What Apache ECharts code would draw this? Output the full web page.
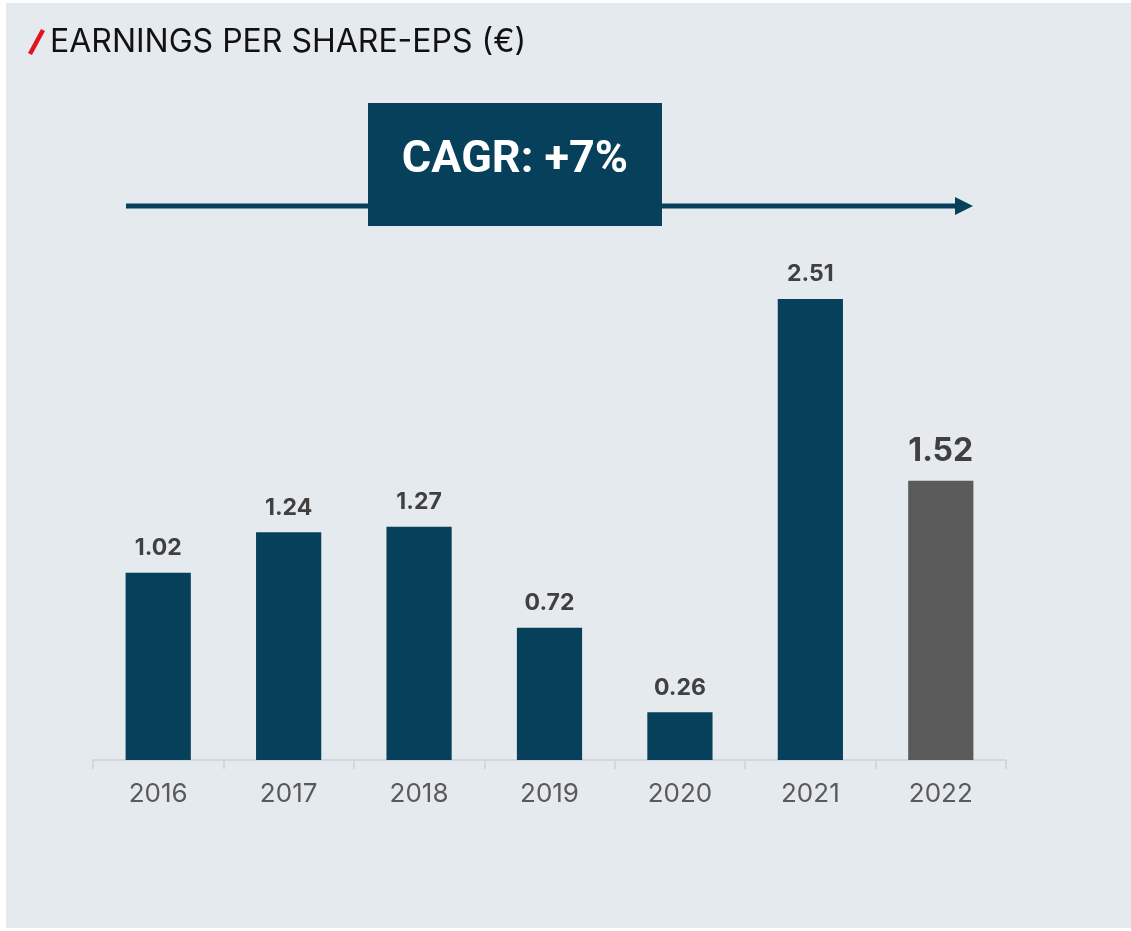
<!DOCTYPE html>
<html>
<head>
<meta charset="utf-8">
<script src="https://cdn.jsdelivr.net/npm/echarts@6/dist/echarts.min.js"></script>
<style>
  html, body { margin: 0; padding: 0; background: #ffffff; }
  #main { position: absolute; left: 6px; top: 3px; width: 1125px; height: 925px; background: #e5eaee; }
</style>
</head>
<body>
<div id="main"></div>
<script>
// data
var years = ['2016', '2017', '2018', '2019', '2020', '2021', '2022'];
var eps = [1.02, 1.24, 1.27, 0.72, 0.26, 2.51, 1.52];
var cagrText = 'CAGR: +7%';

var myChart = echarts.init(document.getElementById('main'));

var barData = eps.map(function(v, i) {
	var last = i === eps.length - 1;
	return {
		value: v,
		itemStyle: { color: last ? '#5a5a5a' : '#07405a' },
		label: last ? { fontSize: 32, distance: 13 } : {}
	};
});

// chart is offset by the div (6,3), so coordinates below are relative to it
option = {
	backgroundColor: '#e5eaee',
	textStyle: { fontFamily: 'Inter' },
	grid: { left: 87, right: 125, top: 206, bottom: 168 },
	xAxis: {
		type: 'category',
		data: years,
		axisLine: { lineStyle: { color: '#d3d7db', width: 2 } },
		axisTick: { show: true, length: 9, lineStyle: { color: '#d3d7db', width: 2 } },
		axisLabel: { color: '#5a5a5a', fontSize: 26, margin: 21 }
	},
	yAxis: {
		type: 'value',
		min: 0,
		max: 3,
		show: false,
		splitLine: { show: false }
	},
	series: [{
		type: 'bar',
		data: barData,
		barWidth: '50%',
		label: {
			show: true,
			position: 'top',
			distance: 13,
			color: '#404040',
			fontWeight: 'bold',
			fontSize: 23,
			formatter: function(p) { return p.value.toFixed(2); }
		}
	}],
	graphic: [
		// title
		{
			type: 'line', shape: { x1: 37, y1: 27, x2: 24, y2: 51 },
			style: { stroke: '#e0141e', lineWidth: 4.5 }
		},
		{
			type: 'text', left: 44, top: 23,
			style: { text: 'EARNINGS PER SHARE-EPS (€)', fill: '#111111', font: '32px Inter' }
		},
		// CAGR arrow
		{
			type: 'line', shape: { x1: 120, y1: 203, x2: 952, y2: 203 },
			style: { stroke: '#07405a', lineWidth: 5 }
		},
		{
			type: 'polygon', shape: { points: [[949, 194], [967, 203], [949, 212]] },
			style: { fill: '#07405a' }
		},
		{
			type: 'rect', shape: { x: 362, y: 100, width: 294, height: 123 },
			style: { fill: '#07405a' }
		},
		{
			type: 'text', x: 509, y: 158,
			style: { text: cagrText, fill: '#ffffff', font: 'bold 45px Roboto', align: 'center', verticalAlign: 'middle' }
		}
	]
};
myChart.setOption(option);
</script>
</body>
</html>
